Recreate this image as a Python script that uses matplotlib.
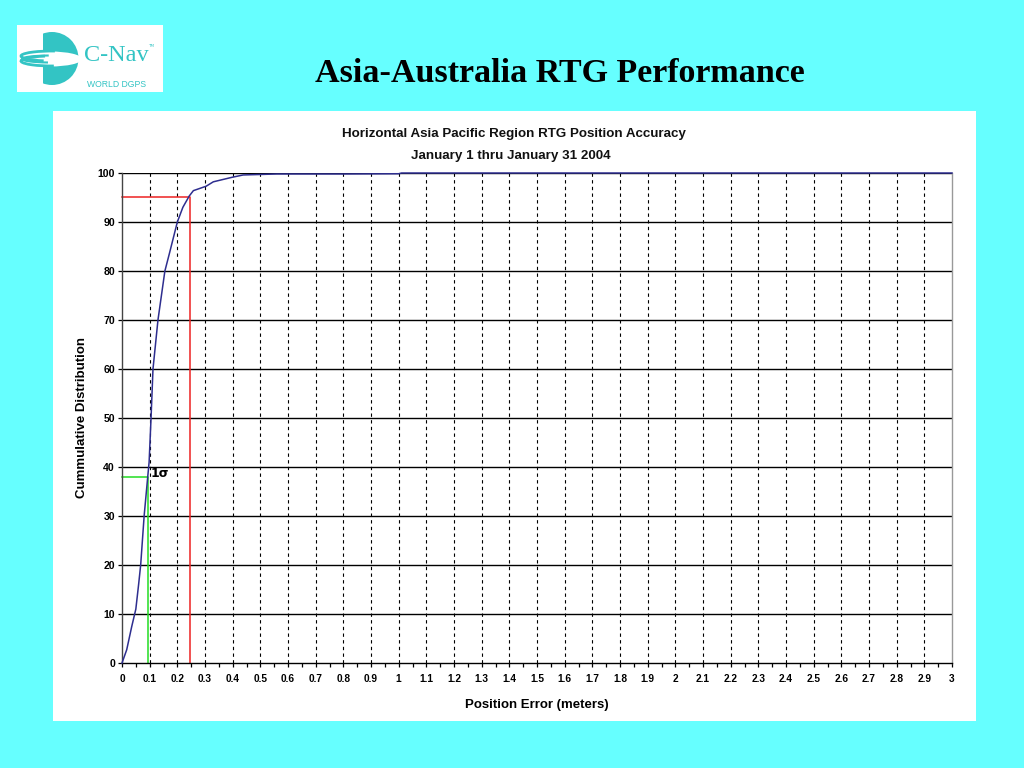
import matplotlib
matplotlib.use("Agg")
import matplotlib.pyplot as plt
from matplotlib.patches import Rectangle, Circle, Ellipse, Arc
import numpy as np

# ---- data ----
error_m = [0, 0.017, 0.035, 0.05, 0.06, 0.0675, 0.08, 0.093, 0.098, 0.105, 0.112,
           0.13, 0.155, 0.171, 0.2, 0.22, 0.243, 0.258, 0.304, 0.33, 0.396, 0.438,
           0.56, 0.8, 1.0, 1.01, 3.0]
cum_pct = [0, 2.7, 7.4, 11, 16, 20, 30, 38, 41, 50, 60,
           70, 80, 83.5, 90, 93, 95.3, 96.4, 97.3, 98.2, 99.1, 99.6,
           99.8, 99.8, 99.85, 100, 100]
sigma1_x, sigma1_y = 0.095, 38
p95_x, p95_y = 0.245, 95
x_ticks = [round(0.1 * i, 1) for i in range(31)]
y_ticks = list(range(0, 101, 10))

BG = "#66FFFF"
TEAL = "#33C4C4"

fig = plt.figure(figsize=(10.24, 7.68), dpi=100, facecolor=BG)

def fx(px):
    return px / 1024
def fy(py):
    return 1 - py / 768

# white chart panel
fig.patches.append(Rectangle((fx(53), fy(721)), fx(976) - fx(53), fy(111) - fy(721),
                             transform=fig.transFigure, facecolor="white",
                             edgecolor="none", zorder=-5))

# logo box
fig.patches.append(Rectangle((fx(17), fy(92)), fx(163) - fx(17), fy(25) - fy(92),
                             transform=fig.transFigure, facecolor="white",
                             edgecolor="none", zorder=-5))

# logo globe drawn in a small axes using pixel coordinates
lax = fig.add_axes([fx(17), fy(92), fx(163) - fx(17), fy(25) - fy(92)])
lax.set_xlim(17, 163)
lax.set_ylim(92, 25)
lax.axis("off")
lax.patch.set_alpha(0)
clip = Rectangle((43, 20), 60, 80, transform=lax.transData)
globe = Circle((52, 58.5), 26.5, facecolor=TEAL, edgecolor="none")
lax.add_patch(globe)
globe.set_clip_path(clip)
lax.add_patch(Ellipse((50, 59), 64, 15, facecolor="white", edgecolor="none"))
lax.add_patch(Arc((52, 56), 62, 10, theta1=150, theta2=300, color=TEAL, lw=2.0))
lax.add_patch(Arc((52, 61), 62, 10, theta1=70, theta2=215, color=TEAL, lw=2.0))
lax.add_patch(Arc((50, 59), 56, 7, theta1=120, theta2=250, color=TEAL, lw=1.5))

fig.text(fx(84), fy(61), "C-Nav", family="Liberation Serif", fontsize=17.5,
         color=TEAL, ha="left", va="baseline")
fig.text(fx(148), fy(46), "TM", family="DejaVu Sans", fontsize=3, color=TEAL,
         ha="left", va="center")
fig.text(fx(87), fy(87), "WORLD DGPS", family="Liberation Sans", fontsize=6.2,
         color=TEAL, ha="left", va="baseline")

# main title
fig.text(fx(560), fy(73), "Asia-Australia RTG Performance", family="Liberation Serif",
         fontweight="bold", fontsize=24.5, ha="center", va="center", color="black")

# chart titles
fig.text(fx(514), fy(134), "Horizontal Asia Pacific Region RTG Position Accuracy",
         family="Liberation Sans", fontweight="bold", fontsize=9.6, ha="center",
         va="center", color="#111111")
fig.text(fx(511), fy(156), "January 1 thru January 31 2004",
         family="Liberation Sans", fontweight="bold", fontsize=9.6, ha="center",
         va="center", color="#111111")

ax = fig.add_axes([fx(122), fy(663), fx(952) - fx(122), fy(173) - fy(663)])
ax.set_facecolor("white")
ax.set_xlim(0, 3)
ax.set_ylim(0, 100)

# grid
for yv in y_ticks[1:]:
    ax.axhline(yv, color="black", lw=1.0, zorder=1)
for xv in x_ticks[1:-1]:
    ax.axvline(xv, color="black", lw=0.8, ls=(0, (3, 3)), zorder=1)

# guides
ax.plot([0, sigma1_x, sigma1_x], [sigma1_y, sigma1_y, 0], color="#22DD22", lw=1.1, zorder=2,
        clip_on=False)
ax.plot([0, p95_x, p95_x], [p95_y, p95_y, 0], color="#EE2222", lw=1.1, zorder=2,
        clip_on=False)

# curve
ax.plot(error_m, cum_pct, color="#2E2E8F", lw=1.1, zorder=3, clip_on=False)

ax.text(0.105, 38.6, "1σ", fontsize=9, fontweight="bold", family="DejaVu Sans",
        ha="left", va="center")

ax.set_xticks(x_ticks)
ax.set_xticklabels(["%g" % v for v in x_ticks])
ax.set_xticks(np.arange(0.05, 3.0, 0.1), minor=True)
ax.set_yticks(y_ticks)
ax.tick_params(axis="x", which="major", labelsize=7.3, length=3, width=0.9,
               direction="out", pad=5)
ax.tick_params(axis="y", which="major", labelsize=7.6, length=3, width=0.9,
               direction="out", pad=2)
ax.tick_params(axis="x", which="minor", length=3, width=0.9, direction="out")
for lab in ax.get_xticklabels() + ax.get_yticklabels():
    lab.set_fontweight("bold")
    lab.set_family("Liberation Sans")

ax.spines["top"].set_visible(False)
ax.spines["right"].set_color("#999999")
ax.spines["left"].set_color("#444444")
ax.spines["bottom"].set_color("black")
for s in ax.spines.values():
    s.set_linewidth(1.0)

ax.set_xlabel("Position Error (meters)", fontsize=9.5, fontweight="bold",
              family="Liberation Sans", labelpad=11)
ax.set_ylabel("Cummulative Distribution", fontsize=9.5, fontweight="bold",
              family="Liberation Sans", labelpad=7)

fig.savefig("out.png", dpi=100, facecolor=BG)
